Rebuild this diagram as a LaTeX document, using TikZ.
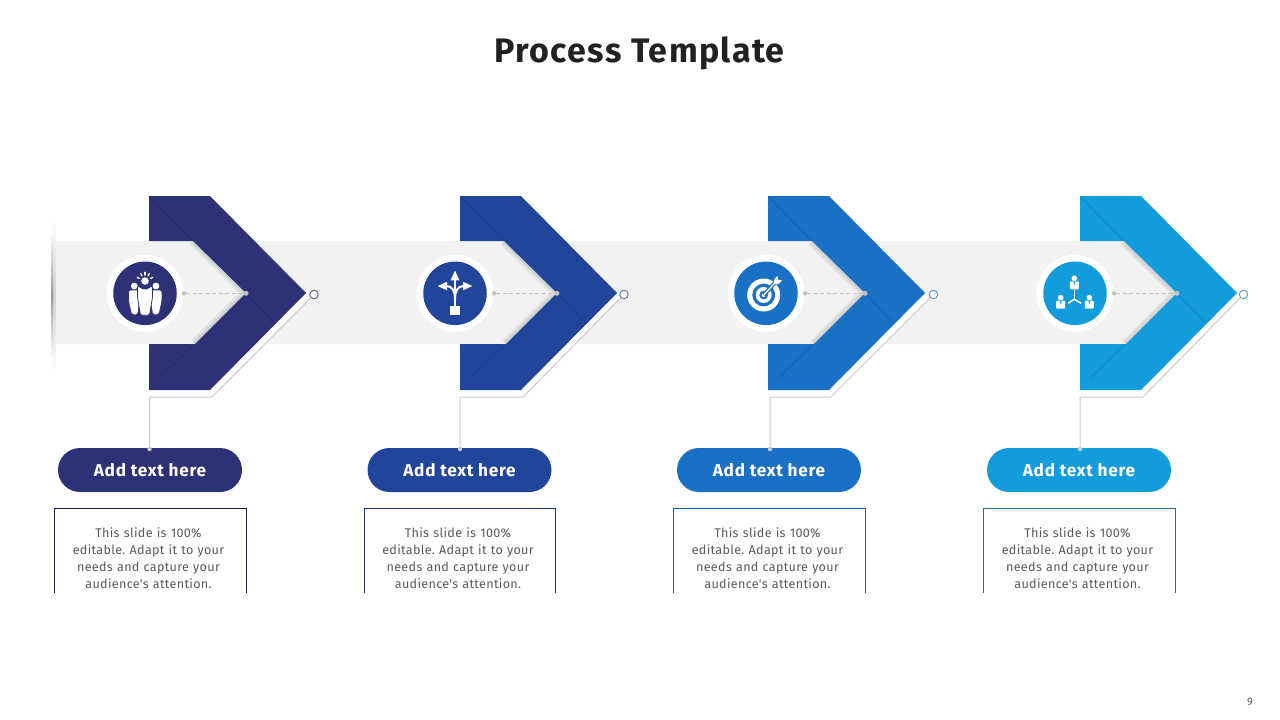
\documentclass[tikz,border=0pt]{standalone}
\usepackage{fontspec}
\setmainfont{Fira Sans}
\newfontfamily\spacedfont[LetterSpace=4]{Fira Sans}
\newfontfamily\tightfont[LetterSpace=2.5]{Fira Sans}
\usetikzlibrary{positioning}

\definecolor{stepone}{HTML}{2D3175}
\definecolor{steptwo}{HTML}{20459B}
\definecolor{stepthree}{HTML}{1A70C5}
\definecolor{stepfour}{HTML}{129CDC}
\definecolor{bandgray}{HTML}{F2F2F2}
\definecolor{linegray}{HTML}{C8C8D2}
\definecolor{dotgray}{HTML}{C4C4C4}
\definecolor{bodytext}{HTML}{595959}

\tikzset{
	titletext/.style={font=\spacedfont\fontsize{34}{36}\selectfont\bfseries, text=black!87},
	pilltext/.style={rounded corners=22pt, minimum width=184pt, minimum height=44pt, inner sep=0pt, text=white, font=\spacedfont\fontsize{17.2}{20}\selectfont\bfseries},
	desctext/.style={align=center, text width=185pt, inner sep=0pt, text=bodytext, font=\tightfont\frenchspacing\fontsize{12.6}{17.1}\selectfont},
	iconring/.style={circle, fill=white, minimum size=77pt, inner sep=0pt},
	icondisc/.style={circle, minimum size=63.5pt, inner sep=0pt},
	crease/.style={black, opacity=.09, line width=1.2pt},
	glyph/.style={fill=white, draw=none},
	glyphline/.style={draw=white, line cap=round},
	thinline/.style={draw=linegray, line width=1pt},
}

% people under a light
\newcommand{\iconpeople}[1]{
	\fill[glyph] (-10.7,-7.3) circle[radius=3.4];
	\fill[glyph] (10.9,-7.3) circle[radius=3.4];
	\fill[glyph, rounded corners=1.5pt] (-16,-3) -- (-6,-3) -- (-6,8) -- (-7.5,21) -- (-13,21) -- (-16,8) -- cycle;
	\fill[glyph, rounded corners=1.5pt] (6,-3) -- (16.5,-3) -- (16.5,8) -- (13.5,21) -- (8,21) -- (6,8) -- cycle;
	\filldraw[fill=white, draw=#1, line width=.8pt, rounded corners=1.5pt] (-7.5,-7.5) -- (0,-3.5) -- (7.5,-7.5) -- (7.5,4) -- (4.5,22) -- (-4.5,22) -- (-7.5,4) -- cycle;
	\filldraw[fill=white, draw=#1, line width=.6pt] (0,-12.3) circle[radius=4.2];
	\foreach \a in {25,60,90,120,155}
		\draw[glyphline, line width=1.3pt] (\a:-6) ++(0,-12.3) -- ++(\a:-2.7);
}

% three way arrow on a base
\newcommand{\iconarrows}[1]{
	\fill[glyph] (-5,12.7) rectangle (5,22);
	\fill[glyph] (0,-22.7) -- (4.5,-13) -- (-4.5,-13) -- cycle;
	\fill[glyph] (-17.3,-7.3) -- (-8,-11.5) -- (-8,-3) -- cycle;
	\fill[glyph] (17.3,-7.3) -- (8,-11.5) -- (8,-3) -- cycle;
	\draw[white, line width=2pt] (0,13) -- (0,-14);
	\draw[white, line width=2pt] (0,6) .. controls (0,-3) and (-3,-7.3) .. (-9,-7.3);
	\draw[white, line width=2pt] (0,6) .. controls (0,-3) and (3,-7.3) .. (9,-7.3);
}

% target with an arrow
\newcommand{\icontarget}[1]{
	\begin{scope}[shift={(-2.3,1.7)}]
		\fill[glyph, even odd rule] (0,0) circle[radius=16.5] (0,0) circle[radius=11.5];
		\fill[glyph, even odd rule] (0,0) circle[radius=8] (0,0) circle[radius=4.5];
		\fill[glyph] (0,0) circle[radius=2];
		\draw[#1, line width=4pt] (0,0) -- (11,-12);
		\draw[white, line width=1.3pt] (0,0) -- (12,-13);
		\fill[glyph] (9.5,-10.5) -- (11,-16.5) -- (14,-19) -- (14.5,-15.5) -- (18.5,-14.5) -- (15.5,-11.5) -- cycle;
	\end{scope}
}

% three people joined up
\newcommand{\iconteam}[1]{
	\draw[white, line width=1.6pt] (-.7,6) -- (-.7,-3);
	\draw[white, line width=1.6pt] (-.7,6) -- (-7,10);
	\draw[white, line width=1.6pt] (-.7,6) -- (6,10);
	\foreach \px/\py in {-.7/-10, -14.3/9.3, 14.3/9.3} {
		\fill[glyph] (\px,\py-5) circle[radius=2.8];
		\fill[glyph, rounded corners=1pt] (\px-4.5,\py-2) rectangle (\px+4.5,\py+6);
		\fill[#1] (\px-1,\py-2) -- (\px+1,\py-2) -- (\px,\py+2) -- cycle;
	}
}

\begin{document}
\begin{tikzpicture}[x=1pt,y=-1pt]
	\useasboundingbox (0,0) rectangle (1280,720);

	\node[titletext] (title) at (639.5,53) {Process Template};

	% band behind the chevrons
	\fill[bandgray] (52,241) -- (1130,241) -- (1178,293) -- (1130,344) -- (52,344) -- cycle;

	% soft edge on the far left
	\shade[top color=white, bottom color=white, middle color=black!18] (51,218) rectangle (55.5,372);
	\shade[top color=white, bottom color=white, middle color=black!40] (51,230) rectangle (53,360);

	\foreach \n/\lx/\cx/\vx/\px/\ox/\tone/\edge/\icon in {
		1/149/145/149.5/150/314/stepone/black!45!stepone/\iconpeople,
		2/460/455/460/459.5/624/steptwo/black!25!steptwo/\iconarrows,
		3/768/766/770/769/933.5/stepthree/black!15!stepthree/\icontarget,
		4/1080/1075/1080/1079/1243.5/stepfour/black!25!stepfour/\iconteam}
	{
		% shadow on the inner side
		\foreach \w in {3,5,7,9,11}
			\draw[black, opacity=.028, line width=\w] (\lx+44,241) -- (\lx+97,293) -- (\lx+46,344);

		% white strip and outline under the lower arm
		\fill[white] (\lx,390) -- (\lx+61,390) -- (\lx+157,293) -- (\lx+161,298) -- (\lx+63,397) -- (\lx,397) -- cycle;
		\coordinate (drop\n) at (\vx,397);
		\coordinate (bend\n) at (\lx+63,397);
		\node[circle, draw=\edge!70!white, fill=white, line width=.9pt, minimum size=8.5pt, inner sep=0pt] (end\n) at (\ox,294.5) {};

		% chevron
		\fill[\tone] (\lx,196) -- (\lx+61,196) -- (\lx+157,293) -- (\lx+61,390) -- (\lx,390) -- (\lx,344) -- (\lx+46,344) -- (\lx+97,293) -- (\lx+44,241) -- (\lx,241) -- cycle;
		\draw[crease] (\lx,196) -- (\lx+44,241);
		\draw[crease] (\lx+97,293) -- (\lx+125,323);
		\draw[crease] (\lx+10,378) -- (\lx+46,344);

		% icon
		\node[iconring] (ring\n) at (\cx,293.3) {};
		\node[icondisc, fill=\tone] (icon\n) at (\cx,293.3) {};
		\begin{scope}[shift={(\cx,293.3)}]
			\icon{\tone}
		\end{scope}

		% dashed pointer
		\node[circle, fill=dotgray, minimum size=4.5pt, inner sep=0pt] (dotl\n) at (\cx+39,293.3) {};
		\node[circle, fill=dotgray, minimum size=5pt, inner sep=0pt] (dotr\n) at (\lx+97,293.3) {};
		\draw[dotgray, dash pattern=on 4pt off 2.5pt, line width=.7pt] (dotl\n) -- (dotr\n);

		% label and text
		\node[pilltext, fill=\tone] (pill\n) at (\px,470) {Add text here};
		\node[circle, fill=linegray, minimum size=4.5pt, inner sep=0pt] (dotb\n) at (\vx,449) {};
		\draw[thinline] (dotb\n) -- (drop\n) -- (bend\n) -- (end\n);

		\node[desctext] (desc\n) at (\px-1.5,558) {This slide is 100\%\\editable. Adapt it to your\\needs and capture your\\audience's attention.};
		\coordinate (boxa\n) at (\px-95.5,593);
		\coordinate (boxb\n) at (\px-95.5,508.5);
		\coordinate (boxc\n) at (\px+96,508.5);
		\coordinate (boxd\n) at (\px+96,593);
		\draw[\edge, line width=.9pt] (boxa\n) -- (boxb\n) -- (boxc\n) -- (boxd\n);
	}

	\node[text=bodytext, font=\fontsize{11}{13}\selectfont] (pagenum) at (1250,702) {9};
\end{tikzpicture}
\end{document}
